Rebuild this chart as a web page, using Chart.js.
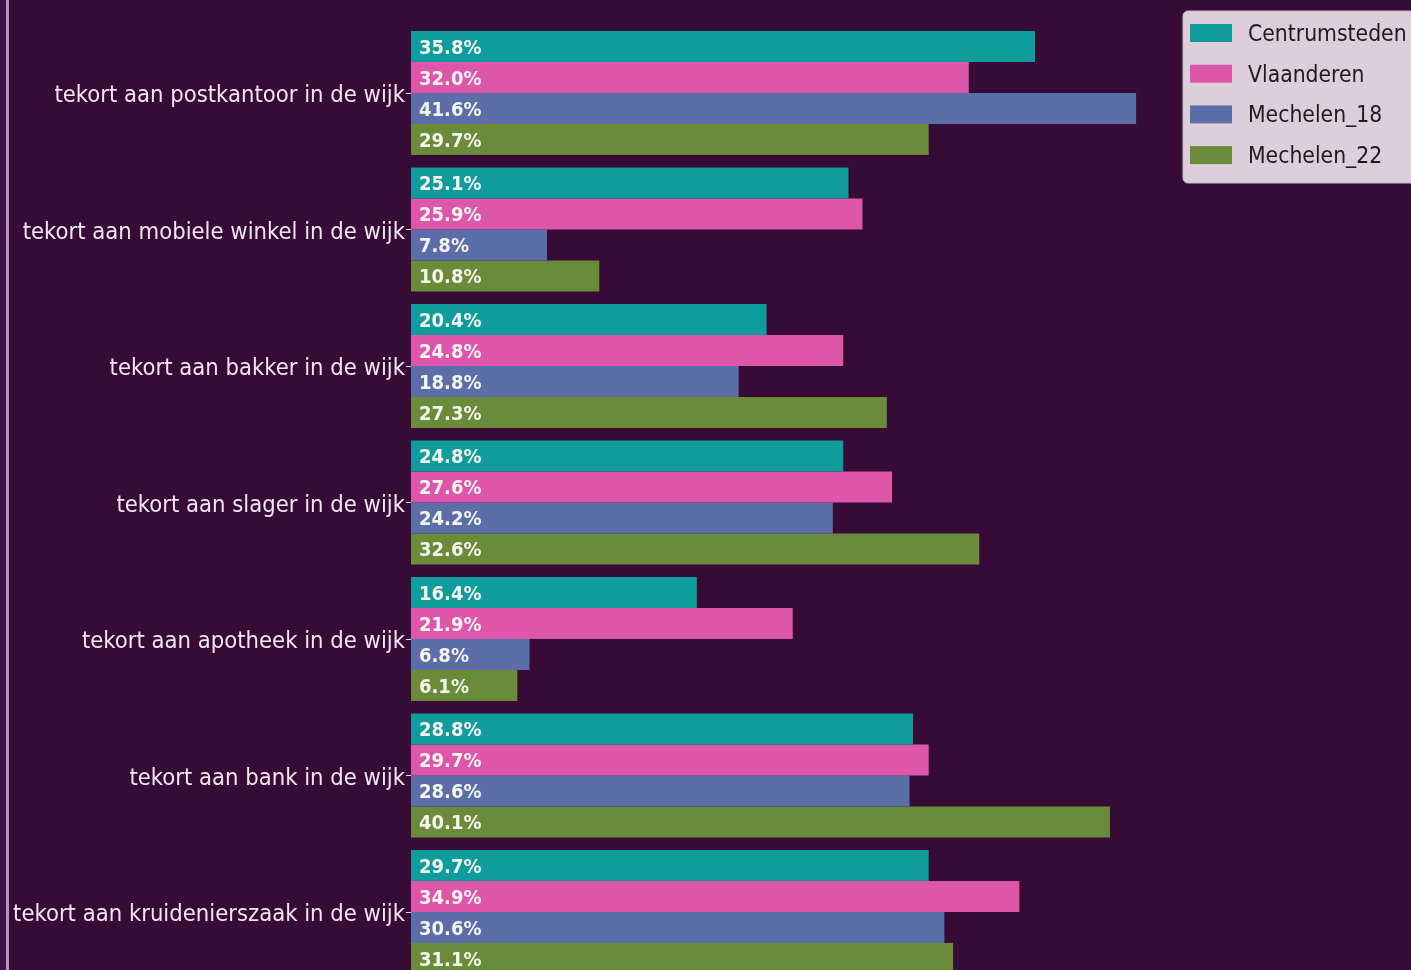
<!DOCTYPE html>
<html>
<head>
<meta charset="utf-8">
<script src="https://cdn.jsdelivr.net/npm/chart.js@4.4.1/dist/chart.umd.min.js"></script>
<style>
    html, body { margin: 0; padding: 0; background: #360b35; overflow: hidden; }
    #wrap { position: relative; width: 1411px; height: 970px; overflow: hidden; }
    #edge { position: absolute; left: 0; top: 0; width: 6px; height: 970px; background: #3d1240; }
    #edgeLine { position: absolute; left: 6px; top: 0; width: 3px; height: 970px; background: #b892c6; }
    canvas { position: absolute; left: 0; top: 0; }
</style>
</head>
<body>
<div id="wrap">
    <canvas id="chart" width="1411" height="1000"></canvas>
    <div id="edge"></div>
    <div id="edgeLine"></div>
</div>
<script>
// Data
const categories = [
    'tekort aan postkantoor in de wijk',
    'tekort aan mobiele winkel in de wijk',
    'tekort aan bakker in de wijk',
    'tekort aan slager in de wijk',
    'tekort aan apotheek in de wijk',
    'tekort aan bank in de wijk',
    'tekort aan kruidenierszaak in de wijk'
];
const seriesNames = ['Centrumsteden', 'Vlaanderen', 'Mechelen_18', 'Mechelen_22'];
const centrumsteden = [35.8, 25.1, 20.4, 24.8, 16.4, 28.8, 29.7];
const vlaanderen = [32.0, 25.9, 24.8, 27.6, 21.9, 29.7, 34.9];
const mechelen18 = [41.6, 7.8, 18.8, 24.2, 6.8, 28.6, 30.6];
const mechelen22 = [29.7, 10.8, 27.3, 32.6, 6.1, 40.1, 31.1];
const seriesColors = ['#0f9c9c', '#de56aa', '#5b6ea8', '#6a8b39'];

const FONT = '"DejaVu Sans Condensed", "Liberation Sans Narrow", "DejaVu Sans", sans-serif';

// Value labels inside the bars
const valueLabels = {
    id: 'valueLabels',
    afterDatasetsDraw(chart) {
        const ctx = chart.ctx;
        ctx.save();
        ctx.font = 'bold 20px ' + FONT;
        ctx.fillStyle = '#f6f4ee';
        ctx.textAlign = 'left';
        ctx.textBaseline = 'middle';
        chart.data.datasets.forEach((ds, i) => {
            chart.getDatasetMeta(i).data.forEach((bar, j) => {
                ctx.fillText(ds.data[j].toFixed(1) + '%', bar.base + 8, bar.y + 2);
            });
        });
        ctx.restore();
    }
};

// Legend box in the upper right corner
const cornerLegend = {
    id: 'cornerLegend',
    afterDraw(chart) {
        const ctx = chart.ctx;
        const x = 1183, y = 11, w = 260, h = 172;
        ctx.save();
        ctx.fillStyle = '#dccedb';
        ctx.strokeStyle = '#cbbccb';
        ctx.lineWidth = 1;
        ctx.beginPath();
        ctx.roundRect(x, y, w, h, 5);
        ctx.fill();
        ctx.stroke();
        ctx.font = '22.7px ' + FONT;
        ctx.textBaseline = 'middle';
        chart.data.datasets.forEach((ds, i) => {
            const cy = 33 + i * 40.7;
            ctx.fillStyle = ds.backgroundColor;
            ctx.fillRect(1190, cy - 9, 42, 18);
            ctx.fillStyle = '#1e1a1e';
            ctx.fillText(ds.label, 1248, cy + 2);
        });
        ctx.restore();
    }
};

const dataSeries = [centrumsteden, vlaanderen, mechelen18, mechelen22];

new Chart(document.getElementById('chart').getContext('2d'), {
    type: 'bar',
    data: {
        labels: categories,
        datasets: dataSeries.map((values, i) => ({
            label: seriesNames[i],
            data: values,
            backgroundColor: seriesColors[i],
            borderWidth: 0,
            categoryPercentage: 0.91,
            barPercentage: 1.0
        }))
    },
    options: {
        indexAxis: 'y',
        responsive: false,
        animation: false,
        layout: { padding: { top: 24.75, bottom: 19.75, left: 0, right: 0 } },
        plugins: {
            legend: { display: false },
            tooltip: { enabled: false }
        },
        scales: {
            x: {
                display: false,
                min: 0,
                max: 57.37
            },
            y: {
                afterFit: (scale) => { scale.width = 411; },
                border: { display: false },
                grid: {
                    drawOnChartArea: false,
                    drawTicks: true,
                    tickLength: 5,
                    color: '#e6d6e6',
                    offset: false
                },
                ticks: {
                    color: '#f2e6f0',
                    padding: 1,
                    labelOffset: 3,
                    font: { family: FONT, size: 23.6 }
                }
            }
        }
    },
    plugins: [valueLabels, cornerLegend]
});
</script>
</body>
</html>
